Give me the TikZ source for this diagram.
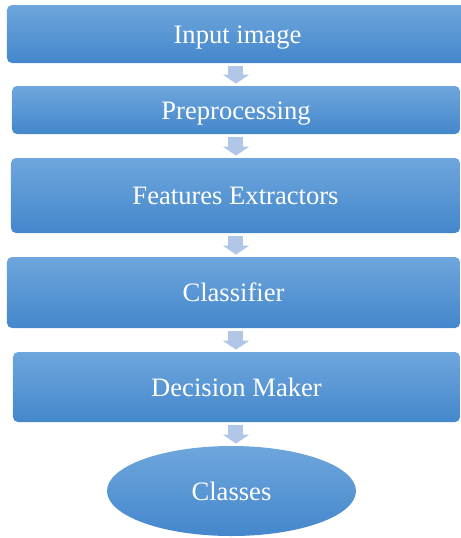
\documentclass[tikz,border=0pt]{standalone}
\usepackage{fontspec}
\setmainfont{Liberation Serif}
\usetikzlibrary{arrows.meta,shapes.geometric}

\definecolor{boxtop}{HTML}{6EA6DC}
\definecolor{boxmid}{HTML}{5599D9}
\definecolor{boxbot}{HTML}{4487CC}
\definecolor{arrowblue}{HTML}{AFC6E7}

\begin{document}
\begin{tikzpicture}[x=0.5pt, y=-0.5pt,
    stage/.style={rounded corners=2.5pt, top color=boxtop, middle color=boxmid,
        bottom color=boxbot, text=white, inner sep=0pt, text height=9pt, text depth=0pt,
        font=\fontsize{13.3}{16}\selectfont},
    flow/.style={draw=arrowblue, line width=7.5pt, -{Triangle[width=13pt, length=4.5pt]},
        shorten <=1.5pt, shorten >=1pt}]
    % Page frame
    \useasboundingbox (0,0) rectangle (461,538);

    % Stages
    \node[stage, minimum width=230.5pt, minimum height=29pt]   (inp)  at (237.5,34)  {Input image};
    \node[stage, minimum width=224pt,   minimum height=24pt]   (pre)  at (236,110)   {Preprocessing};
    \node[stage, minimum width=224.5pt, minimum height=37.5pt] (feat) at (235.5,195.5) {Features Extractors};
    \node[stage, minimum width=226.5pt, minimum height=35.5pt] (clf)  at (233.5,292.5) {Classifier};
    \node[stage, minimum width=223.5pt, minimum height=35pt]   (dec)  at (236.5,387) {Decision Maker};

    % Output
    \node[stage, ellipse, minimum width=124.5pt, minimum height=45pt] (cls) at (231.5,491) {Classes};

    % Arrows down the chain
    \coordinate (ax) at (236,0);
    \draw[flow] (inp.south -| ax) -- (pre.north -| ax);
    \draw[flow] (pre.south -| ax) -- (feat.north -| ax);
    \draw[flow] (feat.south -| ax) -- (clf.north -| ax);
    \draw[flow] (clf.south -| ax) -- (dec.north -| ax);
    \draw[flow] (dec.south -| ax) -- (cls.north -| ax);
\end{tikzpicture}
\end{document}
